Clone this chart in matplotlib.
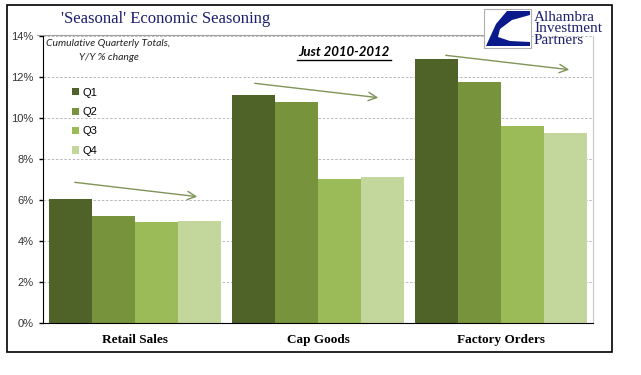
import numpy as np
import matplotlib
matplotlib.use('Agg')
import matplotlib.pyplot as plt
from matplotlib.patches import Rectangle, Polygon, FancyArrowPatch
from matplotlib.lines import Line2D

categories = ['Retail Sales', 'Cap Goods', 'Factory Orders']
quarters = ['Q1', 'Q2', 'Q3', 'Q4']
q1 = [6.03, 11.12, 12.88]
q2 = [5.21, 10.78, 11.77]
q3 = [4.92, 7.02, 9.60]
q4 = [4.97, 7.11, 9.26]
yticks = [0, 2, 4, 6, 8, 10, 12, 14]

colors = ['#4F6228', '#77933C', '#9BBB59', '#C3D69B']
W, H = 641, 375


def px(x, y):
    # pixel position -> figure fraction
    return (x / W, 1 - y / H)


fig = plt.figure(figsize=(W / 100, H / 100), dpi=100)
ax = fig.add_axes([43 / W, 52.3 / H, 550 / W, 286.7 / H])

x = np.arange(len(categories))
bw = 0.235
for i, (vals, c) in enumerate(zip([q1, q2, q3, q4], colors)):
    ax.bar(x + (i - 1.5) * bw, vals, width=bw, color=c, label=quarters[i], zorder=2)

ax.set_xlim(-0.5, 2.5)
ax.set_ylim(0, 14)
ax.set_yticks(yticks)
ax.set_yticklabels([f'{t}%' for t in yticks], fontsize=8, color='#333333',
                   family='Liberation Sans')
ax.set_xticks(x)
ax.set_xticklabels(categories, fontsize=9.5, fontweight='bold', family='Liberation Serif')
ax.tick_params(axis='x', length=0, pad=8)
ax.tick_params(axis='y', length=3, width=1, direction='out', pad=4)
ax.yaxis.grid(True, linestyle=(0, (3, 2)), color='#B0B0B0', linewidth=0.6, zorder=0)
ax.spines['top'].set_visible(False)
ax.spines['right'].set_color('#C8C8C8')
ax.spines['left'].set_color('black')
ax.spines['bottom'].set_color('black')

leg = ax.legend(loc='upper left', bbox_to_anchor=(0.035, 0.855), frameon=False,
                prop={'family': 'Liberation Sans', 'size': 8},
                handlelength=0.6, handleheight=0.6, handletextpad=0.3, labelspacing=0.85)

# trend arrows
arrows = [((72, 182), (200, 197)), ((252, 83), (381, 98)), ((443, 55), (572, 70))]
for (x0, y0), (x1, y1) in arrows:
    fig.add_artist(FancyArrowPatch(
        px(x0, y0), px(x1, y1), transform=fig.transFigure,
        arrowstyle='->,head_length=6,head_width=3', color='#7F9457', lw=1.0))

# texts
fig.text(*px(166, 19), "'Seasonal' Economic Seasoning", ha='center', va='center',
         fontsize=12, family='Liberation Serif', color='#1C1F6E')
fig.text(*px(108, 44), 'Cumulative Quarterly Totals,', ha='center', va='center',
         fontsize=7.5, style='italic', family='Lato', color='#222222')
fig.text(*px(109, 57), 'Y/Y % change', ha='center', va='center',
         fontsize=7.5, style='italic', family='Lato', color='#222222')
fig.text(*px(344, 52), 'Just 2010-2012', ha='center', va='center',
         fontsize=9.5, style='italic', fontweight='bold', family='Lato', color='black')
fig.add_artist(Line2D([297 / W, 391 / W], [1 - 60 / H, 1 - 60 / H], color='black', lw=1))

# title rule
fig.add_artist(Line2D([37 / W, 483 / W], [1 - 35 / H, 1 - 35 / H], color='#A0A0A0', lw=0.8))

# logo
fig.add_artist(Rectangle(px(484, 48), 47 / W, 39 / H, transform=fig.transFigure,
                         facecolor='white', edgecolor='#B0B0B0', lw=0.8))
logo = [(530, 11), (507, 11), (496, 24), (486, 46), (530, 46), (530, 42),
        (510, 41), (498, 37), (500, 29), (512, 20), (530, 15)]
fig.add_artist(Polygon([px(a, b) for a, b in logo], closed=True, transform=fig.transFigure,
                       facecolor='#0A1A8A', edgecolor='none'))
fig.text(*px(534, 29), 'Alhambra\nInvestment\nPartners', ha='left', va='center',
         fontsize=11, linespacing=0.82, family='Liberation Serif', color='#1C1F6E')

# outer border
fig.add_artist(Rectangle(px(7, 352), 605 / W, 347 / H, transform=fig.transFigure,
                         facecolor='none', edgecolor='black', lw=1.2))

fig.savefig('out.png', dpi=100)
